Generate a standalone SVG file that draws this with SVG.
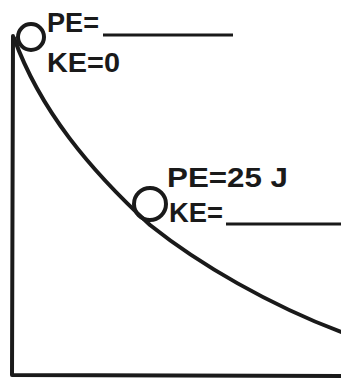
<svg xmlns="http://www.w3.org/2000/svg" width="341" height="383" viewBox="0 0 341 383">
<style>
.ln{fill:none;stroke:#1a1a1a;stroke-width:4;stroke-linecap:round;stroke-linejoin:round}
.bl{fill:none;stroke:#1a1a1a;stroke-width:3}
.t{font-family:"Liberation Sans",Arial,sans-serif;font-weight:bold;font-size:28px;fill:#1a1a1a}
</style>
<rect width="341" height="383" fill="#fff"/>
<g id="connectors">
<path class="ln" d="M13,36 L12,375 L341,376"/>
<path class="ln" d="M14,38 C40,110 90,170 150,225 C200,265 270,305 341,332"/>
</g>
<g id="ball-top">
<circle class="ln" cx="31" cy="37" r="13"/>
</g>
<g id="ball-mid">
<circle class="ln" cx="150" cy="204" r="16"/>
</g>
<g id="label-top">
<text class="t" x="47" y="32" textLength="52" lengthAdjust="spacingAndGlyphs">PE=</text>
<line class="bl" x1="103" y1="35" x2="233" y2="35"/>
<text class="t" x="47" y="72" textLength="73" lengthAdjust="spacingAndGlyphs">KE=0</text>
</g>
<g id="label-mid">
<text class="t" x="167" y="187" textLength="121" lengthAdjust="spacingAndGlyphs">PE=25 J</text>
<text class="t" x="169" y="222" textLength="54" lengthAdjust="spacingAndGlyphs">KE=</text>
<line class="bl" x1="226" y1="224" x2="341" y2="224"/>
</g>
</svg>
